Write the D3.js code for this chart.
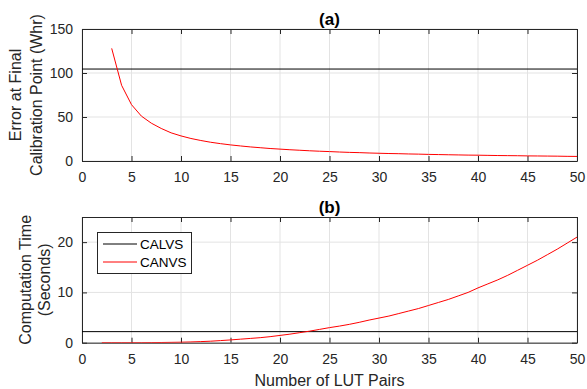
<!DOCTYPE html>
<html>
<head>
<meta charset="utf-8">
<script src="https://cdn.jsdelivr.net/npm/d3@7"></script>
<style>
  body { margin: 0; background: #fff; }
  text { font-family: "Liberation Sans", Arial, sans-serif; fill: #262626; }
</style>
</head>
<body>
<svg id="chart"></svg>
<script>
// LUT pair counts and results
const errPairs = d3.range(3, 51);
const errValues = [128, 86, 64, 51, 43, 37, 32, 28.5, 25.6, 23.3, 21.3, 19.7, 18.3, 17.1, 16, 15.1,
    14.2, 13.5, 12.8, 12.2, 11.6, 11.1, 10.7, 10.2, 9.8, 9.5, 9.1, 8.8, 8.5, 8.3, 8.0, 7.8,
    7.5, 7.3, 7.1, 6.9, 6.7, 6.6, 6.4, 6.2, 6.1, 6.0, 5.8, 5.7, 5.6, 5.5, 5.3, 5.2];
const calvsError = 104.5;

const timePairs = d3.range(2, 51);
const timeValues = [0, 0, 0, 0, 0, 0.02, 0.04, 0.07, 0.1, 0.15, 0.22, 0.3, 0.42, 0.55, 0.7, 0.85,
    1.0, 1.2, 1.45, 1.7, 2.0, 2.3, 2.65, 3.0, 3.3, 3.65, 4.05, 4.5, 4.9, 5.3, 5.8, 6.3,
    6.8, 7.4, 8.0, 8.6, 9.3, 10.0, 10.9, 11.7, 12.5, 13.4, 14.4, 15.4, 16.4, 17.5, 18.6, 19.8, 21.0];
const calvsTime = 2.2;

const xTicks = [0, 5, 10, 15, 20, 25, 30, 35, 40, 45, 50];
const errTicks = [0, 50, 100, 150];
const timeTicks = [0, 10, 20];
const legendNames = ["CALVS", "CANVS"];

const W = 587, H = 389;
const svg = d3.select("#chart").attr("width", W).attr("height", H);

const x = d3.scaleLinear().domain([0, 50]).range([82, 577]);

// Draw one MATLAB-style panel
function panel(top, bottom, yDomain, yTicks, title, labelLines, labelX) {
    const y = d3.scaleLinear().domain(yDomain).range([bottom, top]);
    const g = svg.append("g");

    // grid
    g.selectAll(".gx").data(xTicks).enter().append("line")
        .attr("x1", d => x(d)).attr("x2", d => x(d))
        .attr("y1", top).attr("y2", bottom)
        .attr("stroke", "#e3e3e3").attr("stroke-width", 1);
    g.selectAll(".gy").data(yTicks).enter().append("line")
        .attr("x1", 82).attr("x2", 577)
        .attr("y1", d => y(d)).attr("y2", d => y(d))
        .attr("stroke", "#e3e3e3").attr("stroke-width", 1);

    // axes with inward ticks
    const ax = (gen, tr) => {
        const a = g.append("g").attr("transform", tr).call(gen);
        a.select(".domain").attr("stroke", "#262626");
        a.selectAll(".tick line").attr("stroke", "#262626");
        a.selectAll("text").attr("font-size", "14px").attr("fill", "#262626")
            .attr("font-family", "Liberation Sans, Arial, sans-serif");
        return a;
    };
    ax(d3.axisBottom(x).tickValues(xTicks).tickSizeInner(-5).tickSizeOuter(0).tickPadding(11), `translate(0,${bottom})`);
    ax(d3.axisTop(x).tickValues(xTicks).tickSizeInner(-5).tickSizeOuter(0).tickFormat(""), `translate(0,${top})`);
    ax(d3.axisLeft(y).tickValues(yTicks).tickSizeInner(-5).tickSizeOuter(0).tickPadding(9), `translate(82,0)`);
    ax(d3.axisRight(y).tickValues(yTicks).tickSizeInner(-5).tickSizeOuter(0).tickFormat(""), `translate(577,0)`);

    g.append("text")
        .attr("x", 329.5).attr("y", top - 4)
        .attr("text-anchor", "middle")
        .attr("font-size", "17px").attr("font-weight", "bold")
        .style("fill", "#000")
        .text(title);

    labelLines.forEach((t, i) => {
        g.append("text")
            .attr("transform", `translate(${labelX[i]},${(top + bottom) / 2}) rotate(-90)`)
            .attr("text-anchor", "middle")
            .attr("font-size", "16px")
            .text(t);
    });
    return y;
}

const yErr = panel(29, 161, [0, 150], errTicks, "(a)",
    ["Error at Final", "Calibration Point (Whr)"], [21, 42]);
const yTime = panel(217, 342.7, [0, 25], timeTicks, "(b)",
    ["Computation Time", "(Seconds)"], [31, 50]);

const clip = (id, top, bottom) => svg.append("clipPath").attr("id", id)
    .append("rect").attr("x", 82).attr("y", top).attr("width", 495).attr("height", bottom - top);
clip("c1", 29, 161);
clip("c2", 217, 342.7);

// panel (a)
svg.append("line")
    .attr("x1", x(0)).attr("x2", x(50))
    .attr("y1", yErr(calvsError)).attr("y2", yErr(calvsError))
    .attr("stroke", "#000").attr("stroke-width", 1);
svg.append("path")
    .datum(errPairs.map((n, i) => [n, errValues[i]]))
    .attr("clip-path", "url(#c1)")
    .attr("fill", "none").attr("stroke", "#ff0000").attr("stroke-width", 1)
    .attr("d", d3.line().x(d => x(d[0])).y(d => yErr(d[1])));

// panel (b)
svg.append("line")
    .attr("x1", x(0)).attr("x2", x(50))
    .attr("y1", yTime(calvsTime)).attr("y2", yTime(calvsTime))
    .attr("stroke", "#000").attr("stroke-width", 1);
svg.append("path")
    .datum(timePairs.map((n, i) => [n, timeValues[i]]))
    .attr("clip-path", "url(#c2)")
    .attr("fill", "none").attr("stroke", "#ff0000").attr("stroke-width", 1)
    .attr("d", d3.line().x(d => x(d[0])).y(d => yTime(d[1])));

// x label
svg.append("text")
    .attr("x", 329.5).attr("y", 386)
    .attr("text-anchor", "middle")
    .attr("font-size", "16px")
    .text("Number of LUT Pairs");

// legend
const legend = svg.append("g");
legend.append("rect")
    .attr("x", 97.5).attr("y", 232.5).attr("width", 94).attr("height", 41)
    .attr("fill", "#fff").attr("stroke", "#262626").attr("stroke-width", 1);
const colors = ["#000", "#ff0000"];
legendNames.forEach((name, i) => {
    const ly = 244 + i * 18;
    legend.append("line")
        .attr("x1", 103).attr("x2", 137).attr("y1", ly).attr("y2", ly)
        .attr("stroke", colors[i]).attr("stroke-width", 1);
    legend.append("text")
        .attr("x", 140).attr("y", ly + 4.5)
        .attr("font-size", "13.5px")
        .style("fill", "#000")
        .text(name);
});
</script>
</body>
</html>
